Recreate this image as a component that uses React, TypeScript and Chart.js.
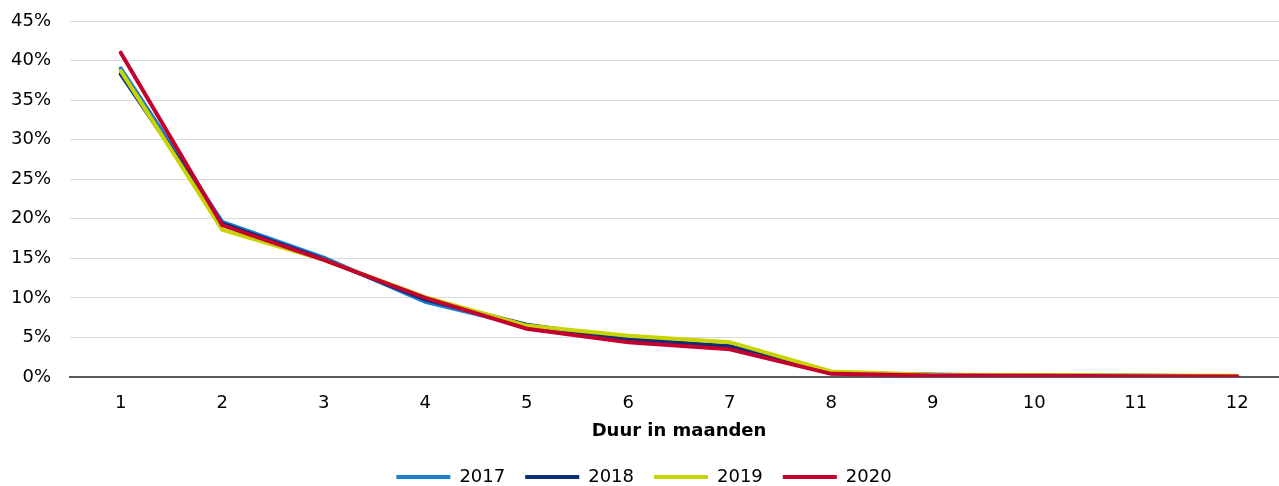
import React, { useEffect, useRef } from "react";
import { Chart, registerables } from "chart.js";

Chart.register(...registerables);

const months = ["1", "2", "3", "4", "5", "6", "7", "8", "9", "10", "11", "12"];
const s2017 = [39.0, 19.6, 15.1, 9.5, 6.4, 4.7, 3.8, 0.5, 0.3, 0.2, 0.15, 0.1];
const s2018 = [38.3, 19.4, 14.9, 9.8, 6.6, 4.8, 3.9, 0.5, 0.3, 0.2, 0.15, 0.1];
const s2019 = [38.7, 18.6, 14.8, 10.1, 6.5, 5.2, 4.4, 0.7, 0.3, 0.25, 0.2, 0.15];
const s2020 = [41.0, 19.2, 14.8, 10.0, 6.1, 4.4, 3.5, 0.4, 0.2, 0.15, 0.1, 0.05];
const yTicks = [0, 5, 10, 15, 20, 25, 30, 35, 40, 45];
const xTitle = "Duur in maanden";

const FONT = "'DejaVu Sans', Verdana, sans-serif";

export default function App() {
  const ref = useRef<HTMLCanvasElement | null>(null);

  useEffect(() => {
    if (!ref.current) return;
    const mk = (label: string, data: number[], color: string, order: number) => ({
      label,
      data,
      borderColor: color,
      backgroundColor: color,
      borderWidth: 4,
      pointRadius: 0,
      tension: 0,
      borderCapStyle: "round" as const,
      borderJoinStyle: "miter" as const,
      order,
    });
    const chart = new Chart(ref.current, {
      type: "line",
      data: {
        labels: months,
        datasets: [
          mk("2017", s2017, "#1B7FD0", 3),
          mk("2018", s2018, "#0B2E7A", 2),
          mk("2019", s2019, "#C8D400", 1),
          mk("2020", s2020, "#C4002F", 0),
        ],
      },
      options: {
        responsive: true,
        maintainAspectRatio: false,
        animation: false,
        layout: { padding: { top: 21, right: 0, left: 0, bottom: -10 } },
        font: { family: FONT, size: 18 },
        plugins: {
          tooltip: { enabled: false },
          legend: {
            position: "bottom",
            labels: {
              font: { family: FONT, size: 18 },
              color: "#000",
              usePointStyle: true,
              pointStyle: "line",
              pointStyleWidth: 54,
              padding: 20,
              sort: (a: any, b: any) => a.datasetIndex - b.datasetIndex,
            },
          },
        },
        scales: {
          x: {
            offset: true,
            afterFit: (scale: any) => {
              scale.height = 71;
            },
            grid: { display: false, drawTicks: false },
            border: { display: true, color: "#595959", width: 2 },
            ticks: { font: { family: FONT, size: 18 }, color: "#000", padding: 15.5, maxRotation: 0 },
            title: {
              display: true,
              text: xTitle,
              font: { family: FONT, size: 18, weight: "bold" },
              color: "#000",
              padding: { top: 4, bottom: 6 },
            },
          },
          y: {
            min: 0,
            max: 45,
            afterFit: (scale: any) => {
              scale.width = 70;
              scale.paddingTop = 0;
              scale.paddingBottom = 0;
            },
            afterBuildTicks: (scale: any) => {
              scale.ticks = yTicks.map((v) => ({ value: v }));
            },
            grid: {
              drawTicks: false,
              color: (c: any) => (c.tick && c.tick.value === 0 ? "rgba(0,0,0,0)" : "#D9D9D9"),
              lineWidth: 1,
            },
            border: { display: false },
            ticks: {
              font: { family: FONT, size: 18 },
              color: "#000",
              padding: 19,
              callback: (v: any) => v + "%",
            },
          },
        },
      },
    });
    return () => chart.destroy();
  }, []);

  return (
    <div style={{ position: "absolute", left: 0, top: 0, width: 1279, height: 486, overflow: "hidden", background: "#fff" }}>
      <div style={{ position: "relative", width: 1288, height: 486 }}>
        <canvas ref={ref} />
      </div>
    </div>
  );
}
